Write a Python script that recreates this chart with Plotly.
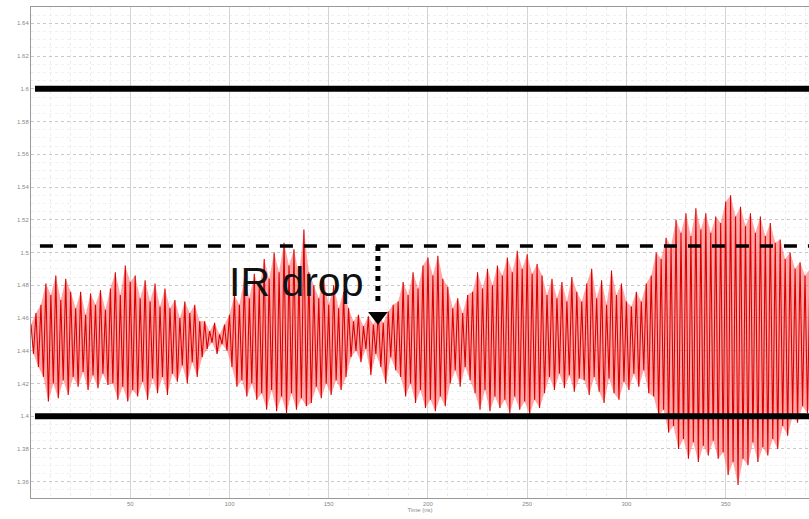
import numpy as np
import plotly.graph_objects as go

# Peak (upper) and trough (lower) readings of the supply waveform, one every 2.5 ns
upper_peaks = [
    1.456, 1.463,
    1.468, 1.481, 1.474, 1.486, 1.471, 1.484, 1.476,
    1.466, 1.476, 1.462, 1.475, 1.468, 1.477, 1.465,
    1.478, 1.488, 1.474, 1.492, 1.482,
    1.486, 1.472, 1.483, 1.470, 1.481, 1.467, 1.478, 1.466,
    1.471, 1.460, 1.470, 1.463, 1.468, 1.458,
    1.458, 1.452, 1.457, 1.450, 1.456,
    1.462, 1.474, 1.468, 1.484, 1.472, 1.487,
    1.478, 1.496, 1.484, 1.500, 1.488, 1.506, 1.492, 1.502, 1.486, 1.514,
    1.488, 1.480, 1.472, 1.484, 1.468, 1.480, 1.466, 1.476,
    1.466, 1.458, 1.462, 1.455, 1.461, 1.456, 1.463, 1.457, 1.464, 1.468,
    1.470, 1.482, 1.474, 1.488, 1.478, 1.492,
    1.497, 1.486, 1.498, 1.484,
    1.479, 1.466, 1.472, 1.463, 1.474,
    1.476, 1.488, 1.478, 1.490, 1.480, 1.492,
    1.486, 1.497, 1.488, 1.501, 1.490, 1.499, 1.487, 1.493,
    1.486, 1.474, 1.484, 1.472, 1.482, 1.470, 1.485, 1.476,
    1.470, 1.481, 1.490, 1.472, 1.483, 1.468, 1.489, 1.474, 1.481, 1.470,
    1.467, 1.476, 1.470, 1.481,
    1.486, 1.500, 1.496, 1.509, 1.504, 1.520,
    1.512, 1.524, 1.510, 1.527, 1.514, 1.524, 1.512, 1.522,
    1.518, 1.531, 1.535, 1.522, 1.528,
    1.516, 1.524, 1.512, 1.522, 1.510, 1.518, 1.506,
    1.508, 1.496, 1.500, 1.490, 1.494, 1.486, 1.490,
]
lower_troughs = [
    1.438, 1.430,
    1.424, 1.409, 1.420, 1.411, 1.422, 1.413, 1.424,
    1.418, 1.427, 1.416, 1.425, 1.417, 1.426, 1.419,
    1.420, 1.410, 1.418, 1.409, 1.416,
    1.412, 1.421, 1.410, 1.423, 1.414, 1.424, 1.413, 1.426,
    1.421, 1.431, 1.420, 1.433, 1.424, 1.436,
    1.441, 1.445, 1.438, 1.444, 1.440,
    1.430, 1.418, 1.422, 1.412, 1.420, 1.410,
    1.414, 1.404, 1.416, 1.403, 1.412, 1.402, 1.414, 1.404, 1.411, 1.406,
    1.408, 1.418, 1.411, 1.420, 1.413, 1.422, 1.416, 1.424,
    1.436, 1.440, 1.433, 1.441, 1.425, 1.438, 1.430, 1.420, 1.436, 1.428,
    1.424, 1.412, 1.420, 1.408, 1.416, 1.405,
    1.410, 1.403, 1.412, 1.406,
    1.420, 1.428, 1.418, 1.430, 1.422,
    1.414, 1.404, 1.416, 1.403, 1.412, 1.405,
    1.410, 1.402, 1.412, 1.404, 1.409, 1.401, 1.410, 1.405,
    1.414, 1.424, 1.416, 1.426, 1.417, 1.425, 1.415, 1.423,
    1.422, 1.413, 1.424, 1.415, 1.408, 1.423, 1.414, 1.410, 1.421, 1.416,
    1.426, 1.418, 1.428, 1.414,
    1.412, 1.400, 1.404, 1.390, 1.394, 1.380,
    1.386, 1.374, 1.384, 1.372, 1.382, 1.376, 1.385, 1.374,
    1.378, 1.364, 1.372, 1.358, 1.374,
    1.370, 1.384, 1.372, 1.381, 1.376, 1.386, 1.380,
    1.394, 1.388, 1.400, 1.396, 1.406, 1.402, 1.410,
]
sample_period_ns = 2.5

upper_limit = 1.6
lower_limit = 1.4
nominal_level = 1.504
ir_drop_time = 174.8
ir_drop_bottom = 1.468
ir_arrow_tip = 1.461

x_tick_vals = [50, 100, 150, 200, 250, 300, 350]
x_tick_text = ["50", "100", "150", "200", "250", "300", "350"]

# interleave peaks and troughs into one trace
n = min(len(upper_peaks), len(lower_troughs))
t_hi = np.arange(n) * sample_period_ns
t_lo = t_hi + sample_period_ns / 2
t = np.empty(2 * n)
v = np.empty(2 * n)
t[0::2] = t_hi
t[1::2] = t_lo
v[0::2] = upper_peaks[:n]
v[1::2] = lower_troughs[:n]

fig = go.Figure()
# dense high-frequency band (pink wash between the extremes)
band_x = np.concatenate([t_hi, t_lo[::-1]])
band_y = np.concatenate([np.array(upper_peaks[:n]), np.array(lower_troughs[:n])[::-1]])
fig.add_trace(go.Scatter(x=band_x, y=band_y, mode="lines", fill="toself",
                         fillcolor="rgba(255,95,95,0.55)", line=dict(width=0),
                         hoverinfo="skip", showlegend=False))
fig.add_trace(go.Scatter(x=t, y=v, mode="lines",
                         line=dict(color="#dc0000", width=1.1),
                         hoverinfo="skip", showlegend=False))

# limit lines
fig.add_shape(type="line", xref="x", yref="y", x0=2, x1=400,
              y0=upper_limit, y1=upper_limit, line=dict(color="black", width=6))
fig.add_shape(type="line", xref="x", yref="y", x0=2, x1=400,
              y0=lower_limit, y1=lower_limit, line=dict(color="black", width=6))
fig.add_shape(type="line", xref="x", yref="y", x0=4.5, x1=400,
              y0=nominal_level, y1=nominal_level,
              line=dict(color="black", width=3.5, dash="13px,11px"))

# IR drop marker
fig.add_shape(type="line", xref="x", yref="y", x0=ir_drop_time, x1=ir_drop_time,
              y0=nominal_level, y1=ir_drop_bottom,
              line=dict(color="black", width=5, dash="dot"))
fig.add_trace(go.Scatter(x=[ir_drop_time], y=[ir_arrow_tip], mode="markers",
                         marker=dict(symbol="triangle-down", size=17, color="black"),
                         hoverinfo="skip", showlegend=False))
fig.add_annotation(x=99.0, y=1.482, xref="x", yref="y", text="IR drop",
                   showarrow=False, xanchor="left", yanchor="middle",
                   font=dict(family="Liberation Sans, Arial", size=41, color="#111111"))

fig.update_xaxes(range=[0, 392], tickvals=x_tick_vals, ticktext=x_tick_text,
                 showgrid=True, gridcolor="#d4d4d4", gridwidth=1,
                 minor=dict(dtick=10, showgrid=True, gridcolor="#ececec", griddash="dot"),
                 showline=True, linecolor="#999999", linewidth=1, mirror=True,
                 zeroline=False, ticks="",
                 tickfont=dict(family="Liberation Sans, Arial", size=6, color="#888888"),
                 title=dict(text="Time (ns)", standoff=0,
                            font=dict(family="Liberation Sans, Arial", size=6, color="#888888")))
fig.update_yaxes(range=[1.35, 1.65], dtick=0.02, tick0=1.36,
                 showgrid=True, gridcolor="#c8c8c8", griddash="dot", gridwidth=1,
                 minor=dict(dtick=0.005, showgrid=True, gridcolor="#f0f0f0", griddash="dot"),
                 showline=True, linecolor="#999999", linewidth=1, mirror=True,
                 zeroline=False, ticks="",
                 tickfont=dict(family="Liberation Sans, Arial", size=6, color="#888888"))

fig.update_layout(width=809, height=519,
                  margin=dict(l=31, r=0, t=7, b=21),
                  plot_bgcolor="white", paper_bgcolor="white")

fig.write_html("out.html")
